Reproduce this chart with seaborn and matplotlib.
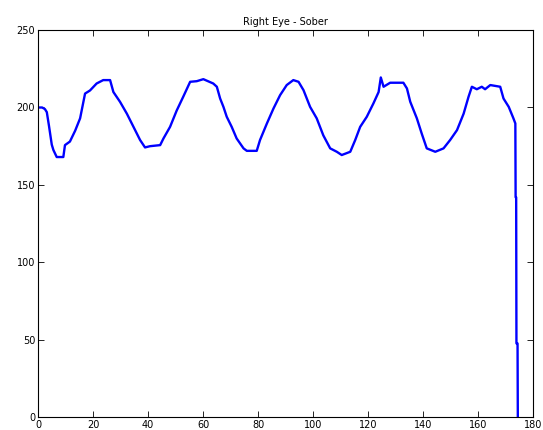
import matplotlib.pyplot as plt
import seaborn as sns
import pandas as pd

# trace, time (x) vs. pupil signal (y)
time = [0, 1.5, 2.5, 3.2, 4.0, 5.0, 5.6, 6.8, 8.0, 9.2, 9.8, 11.6, 13.5, 15.3,
        17.1, 18.9, 21.3, 23.7, 26.2, 27.4, 29.8, 32.3, 34.7, 37.1, 38.9, 40.7,
        44.4, 45.6, 48.0, 50.4, 52.8, 55.3, 57.7, 60.1, 63.7, 65.0, 66.2, 67.4,
        68.6, 70.4, 72.2, 74.7, 75.9, 79.5, 80.7, 83.2, 85.6, 88.0, 90.4, 92.8,
        94.7, 96.5, 98.9, 101.3, 103.7, 106.2, 108.6, 110.4, 113.5, 115.3, 117.1,
        119.5, 121.9, 123.8, 124.6, 125.6, 128.0, 132.8, 134.1, 135.3, 137.7,
        139.5, 141.3, 144.4, 147.4, 149.8, 152.3, 154.7, 156.5, 157.7, 159.5,
        161.3, 162.5, 164.4, 168.0, 169.2, 171.1, 172.8, 173.5, 173.6, 173.8,
        173.9, 174.3, 174.4]
signal = [200, 200, 199, 197, 188, 176, 172.5, 168, 168, 168, 175.7, 178, 185, 193,
          209, 211, 215.5, 217.7, 217.7, 210, 203.7, 196, 187.5, 179, 174.2, 175,
          175.7, 180, 187.5, 198, 207, 216.6, 217, 218.3, 215.5, 213.4, 205.8, 200.4,
          194, 187.5, 180, 173.6, 172, 172, 179, 189.7, 199.4, 208, 214.5, 217.7,
          216.6, 211.2, 200.4, 193, 182, 173.6, 171.4, 169.3, 171.4, 179, 187.5,
          194, 202.6, 210, 219.4, 213.4, 216, 216, 212.3, 203.7, 193,
          183, 173.6, 171.4, 173.6, 179, 185.4, 196, 207, 213.4, 211.8,
          213.4, 211.8, 214.5, 213.4, 205.8, 200.4, 193, 189.7, 142, 142,
          47.6, 47.6, 0]

df = pd.DataFrame({"time": time, "signal": signal})

sns.set_style("white")
plt.rcParams["font.family"] = ["DejaVu Sans"]

fig = plt.figure(figsize=(5.43, 4.30), dpi=100)
ax = fig.add_axes([0.070, 0.030, 0.912, 0.900])

sns.lineplot(data=df, x="time", y="signal", ax=ax, color="#0000ff",
             linewidth=1.7, estimator=None, sort=False)

ax.set_xlim(0, 180)
ax.set_ylim(0, 250)
ax.set_xticks(range(0, 181, 20))
ax.set_yticks(range(0, 251, 50))
ax.set_xlabel("")
ax.set_ylabel("")
ax.set_title("Right Eye - Sober", fontsize=7, pad=4, color="black")

for side in ["top", "right", "bottom", "left"]:
    ax.spines[side].set_visible(True)
    ax.spines[side].set_color("black")
    ax.spines[side].set_linewidth(0.8)

ax.tick_params(direction="in", length=4, width=0.6, labelsize=7,
               colors="black", top=True, right=True, bottom=True, left=True,
               pad=2)

fig.savefig("out.png", dpi=100)
